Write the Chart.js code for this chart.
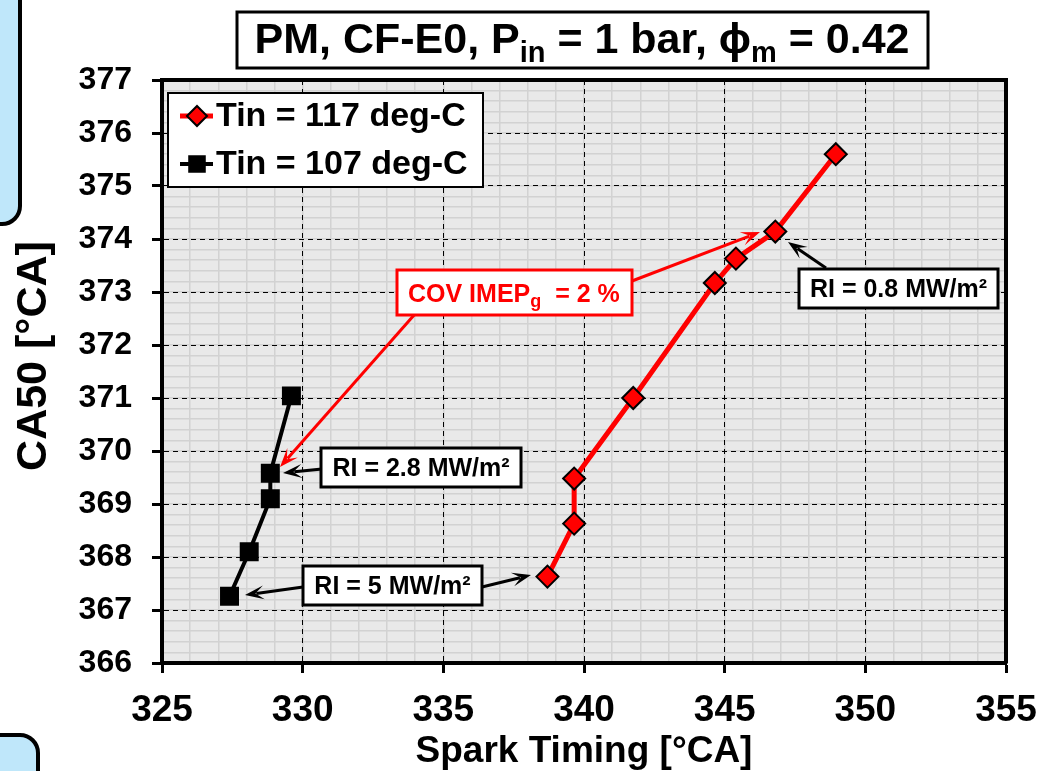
<!DOCTYPE html>
<html>
<head>
<meta charset="utf-8">
<script src="https://cdn.jsdelivr.net/npm/chart.js@4.4.1/dist/chart.umd.min.js"></script>
<style>
    html, body { margin: 0; padding: 0; background: #fff; }
    #wrap { position: relative; width: 1042px; height: 771px; overflow: hidden; }
    #c { position: absolute; left: 0; top: 0; }
    .side { position: absolute; background: #bfe7fa; border: 4px solid #000; border-radius: 20px; }
</style>
</head>
<body>
<div id="wrap">
    <div class="side" style="left:-40px; top:-30px; width:54px; height:248px;"></div>
    <div class="side" style="left:-40px; top:733px; width:72px; height:90px;"></div>
    <canvas id="c" width="1042" height="771"></canvas>
</div>
<script>
    // data
    const seriesLabels = ["Tin = 117 deg-C", "Tin = 107 deg-C"];
    const spark117 = [338.7, 339.65, 339.65, 341.75, 344.65, 345.4, 346.8, 348.95];
    const ca50_117 = [367.63, 368.63, 369.48, 371.0, 373.17, 373.63, 374.14, 375.6];
    const spark107 = [327.4, 328.1, 328.85, 328.85, 329.6];
    const ca50_107 = [367.26, 368.1, 369.1, 369.58, 371.04];
    const xTicks = [325, 330, 335, 340, 345, 350, 355];
    const yTicks = [366, 367, 368, 369, 370, 371, 372, 373, 374, 375, 376, 377];

    const sans = '"Liberation Sans", Arial, sans-serif';

    function pts(xs, ys) {
        return xs.map(function (x, i) { return {x: x, y: ys[i]}; });
    }

    function arrow(ctx, x1, y1, x2, y2, color, w) {
        const a = Math.atan2(y2 - y1, x2 - x1);
        const L = 19, W = 7;
        ctx.save();
        ctx.strokeStyle = color;
        ctx.fillStyle = color;
        ctx.lineWidth = w;
        ctx.beginPath();
        ctx.moveTo(x1, y1);
        ctx.lineTo(x2 - Math.cos(a) * L * 0.6, y2 - Math.sin(a) * L * 0.6);
        ctx.stroke();
        ctx.translate(x2, y2);
        ctx.rotate(a);
        ctx.beginPath();
        ctx.moveTo(0, 0);
        ctx.lineTo(-L, -W);
        ctx.lineTo(-L * 0.55, 0);
        ctx.lineTo(-L, W);
        ctx.closePath();
        ctx.fill();
        ctx.restore();
    }

    function box(ctx, x, y, w, h, color, lw) {
        ctx.save();
        ctx.fillStyle = "#fff";
        ctx.fillRect(x, y, w, h);
        ctx.strokeStyle = color;
        ctx.lineWidth = lw;
        ctx.strokeRect(x, y, w, h);
        ctx.restore();
    }

    // text made of [string, isSub] pieces
    function richText(ctx, parts, x, y, size, subSize, subDrop, color, center) {
        ctx.save();
        ctx.fillStyle = color;
        ctx.textBaseline = "alphabetic";
        ctx.textAlign = "left";
        let total = 0;
        parts.forEach(function (p) {
            ctx.font = "bold " + (p[1] ? subSize : size) + "px " + sans;
            total += ctx.measureText(p[0]).width;
        });
        let cx = center ? x - total / 2 : x;
        parts.forEach(function (p) {
            ctx.font = "bold " + (p[1] ? subSize : size) + "px " + sans;
            ctx.fillText(p[0], cx, y + (p[1] ? subDrop : 0));
            cx += ctx.measureText(p[0]).width;
        });
        ctx.restore();
    }

    const plotBg = {
        id: "plotBg",
        beforeDraw: function (chart) {
            const a = chart.chartArea, ctx = chart.ctx;
            ctx.save();
            ctx.fillStyle = "#e9e9e9";
            ctx.fillRect(a.left, a.top, a.right - a.left, a.bottom - a.top);
            ctx.restore();
        }
    };

    const notes = {
        id: "notes",
        afterDraw: function (chart) {
            const ctx = chart.ctx;
            const ds = chart.data.datasets;

            // title
            box(ctx, 237, 12, 691, 56, "#000", 3);
            richText(ctx, [["PM, CF-E0, P", 0], ["in", 1], [" = 1 bar, ", 0], ["\u03d5", 0], ["m", 1], [" = 0.42", 0]],
                582, 53, 43, 29, 9, "#000", true);

            // y axis title
            ctx.save();
            ctx.translate(34, 356);
            ctx.rotate(-Math.PI / 2);
            ctx.font = "bold 43px " + sans;
            ctx.textAlign = "center";
            ctx.textBaseline = "middle";
            ctx.fillStyle = "#000";
            ctx.fillText("CA50 [\u00b0CA]", 0, 0);
            ctx.restore();

            // legend
            box(ctx, 168, 93, 315, 94, "#000", 2);
            [116, 164].forEach(function (y, i) {
                const d = ds[i];
                ctx.save();
                ctx.strokeStyle = d.borderColor;
                ctx.lineWidth = d.borderWidth;
                ctx.beginPath();
                ctx.moveTo(180, y);
                ctx.lineTo(213, y);
                ctx.stroke();
                ctx.fillStyle = d.pointBackgroundColor;
                ctx.strokeStyle = d.pointBorderColor;
                ctx.lineWidth = d.pointBorderWidth;
                Chart.helpers.drawPoint(ctx, {pointStyle: d.pointStyle, rotation: 0, radius: d.pointRadius - 1, borderWidth: d.pointBorderWidth}, 197, y);
                ctx.font = "bold 34px " + sans;
                ctx.fillStyle = "#000";
                ctx.textBaseline = "middle";
                ctx.fillText(d.label, 216, y + 1);
                ctx.restore();
            });

            // COV annotation
            arrow(ctx, 632, 281, 760, 232, "#ff0000", 3);
            arrow(ctx, 415, 314, 280, 467, "#ff0000", 3);
            box(ctx, 397, 270, 235, 45, "#ff0000", 3);
            richText(ctx, [["COV IMEP", 0], ["g", 1], ["  = 2 %", 0]], 408, 302, 25, 18, 5, "#ff0000", false);

            // RI annotations
            arrow(ctx, 826, 268, 788, 242, "#000", 3);
            box(ctx, 799, 269, 199, 39, "#000", 3);
            richText(ctx, [["RI = 0.8 MW/m\u00b2", 0]], 898.5, 297, 25, 18, 0, "#000", true);

            arrow(ctx, 322, 469, 283, 473, "#000", 3);
            box(ctx, 321, 448, 200, 39, "#000", 3);
            richText(ctx, [["RI = 2.8 MW/m\u00b2", 0]], 421, 476, 25, 18, 0, "#000", true);

            arrow(ctx, 303, 587, 245, 595, "#000", 3);
            arrow(ctx, 482, 587, 531, 575, "#000", 3);
            box(ctx, 303, 566, 179, 39, "#000", 3);
            richText(ctx, [["RI = 5 MW/m\u00b2", 0]], 392.5, 594, 25, 18, 0, "#000", true);
        }
    };

    const ctx1 = document.getElementById("c").getContext("2d");
    const myChart = new Chart(ctx1, {
        type: "scatter",
        data: {
            datasets: [{
                label: seriesLabels[0],
                data: pts(spark117, ca50_117),
                showLine: true,
                borderColor: "#ff0000",
                borderWidth: 5,
                pointStyle: "rectRot",
                pointRadius: 11,
                pointBackgroundColor: "#ff0000",
                pointBorderColor: "#000",
                pointBorderWidth: 2
            },
            {
                label: seriesLabels[1],
                data: pts(spark107, ca50_107),
                showLine: true,
                borderColor: "#000",
                borderWidth: 4,
                pointStyle: "rect",
                pointRadius: 12,
                pointBackgroundColor: "#000",
                pointBorderColor: "#000",
                pointBorderWidth: 2
            }]
        },
        options: {
            responsive: false,
            devicePixelRatio: 1,
            animation: false,
            layout: {padding: {left: 0, top: 80, right: 36, bottom: 0}},
            plugins: {legend: {display: false}, tooltip: {enabled: false}},
            scales: {
                x: {
                    type: "linear", position: "bottom",
                    min: xTicks[0], max: xTicks[xTicks.length - 1],
                    afterFit: function (s) { s.height = 108; s.paddingLeft = 0; s.paddingRight = 0; },
                    ticks: {stepSize: 5, color: "#000", padding: 16,
                        font: {family: sans, size: 37, weight: "bold"}},
                    grid: {color: "#000", lineWidth: 1, tickLength: 10, tickWidth: 3, tickColor: "#000", z: -1},
                    border: {color: "#000", width: 4, dash: [5, 4]},
                    title: {display: true, text: "Spark Timing [\u00b0CA]", color: "#000", padding: 1,
                        font: {family: sans, size: 37, weight: "bold", lineHeight: 1.0}}
                },
                y: {
                    type: "linear", position: "left",
                    min: yTicks[0], max: yTicks[yTicks.length - 1],
                    afterFit: function (s) { s.width = 162; s.paddingTop = 0; s.paddingBottom = 0; },
                    ticks: {stepSize: 1, color: "#000", padding: 20,
                        font: {family: sans, size: 32, weight: "bold"}},
                    grid: {color: "#000", lineWidth: 1, tickLength: 10, tickWidth: 3, tickColor: "#000", z: -1},
                    border: {color: "#000", width: 4, dash: [5, 4]}
                },
                xMinor: {
                    type: "linear", position: "top",
                    min: xTicks[0], max: xTicks[xTicks.length - 1],
                    afterFit: function (s) { s.height = 0; s.paddingLeft = 0; s.paddingRight = 0; },
                    ticks: {display: false, stepSize: 1},
                    grid: {color: "#d2d2d2", lineWidth: 1.5, drawTicks: false, z: -2},
                    border: {color: "#000", width: 4}
                },
                yMinor: {
                    type: "linear", position: "right",
                    min: yTicks[0], max: yTicks[yTicks.length - 1],
                    afterFit: function (s) { s.width = 0; s.paddingTop = 0; s.paddingBottom = 0; },
                    ticks: {display: false, stepSize: 0.2},
                    grid: {color: "#d2d2d2", lineWidth: 1.5, drawTicks: false, z: -2},
                    border: {color: "#000", width: 4}
                }
            }
        },
        plugins: [plotBg, notes]
    });
</script>
</body>
</html>
